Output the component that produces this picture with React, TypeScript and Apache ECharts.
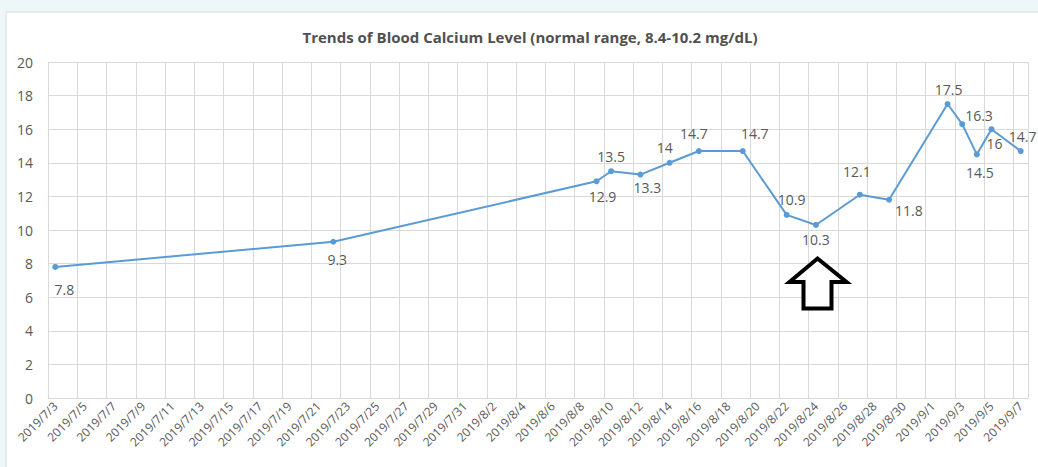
import React, { useEffect, useRef } from "react";
import * as echarts from "echarts";

const title = "Trends of Blood Calcium Level (normal range, 8.4-10.2 mg/dL)";
const startDate = "2019/7/3";
const dayCount = 67;
const measureDates = [
  "2019/7/3", "2019/7/22", "2019/8/9", "2019/8/10", "2019/8/12", "2019/8/14",
  "2019/8/16", "2019/8/19", "2019/8/22", "2019/8/24", "2019/8/27", "2019/8/29",
  "2019/9/2", "2019/9/3", "2019/9/4", "2019/9/5", "2019/9/7",
];
const calciumValues = [7.8, 9.3, 12.9, 13.5, 13.3, 14, 14.7, 14.7, 10.9, 10.3, 12.1, 11.8, 17.5, 16.3, 14.5, 16, 14.7];
const labelPlacement: [string, number, number][] = [
  ["bottom", 9, 8],
  ["bottom", 4, 3],
  ["bottom", 6, 0],
  ["top", 0, 0],
  ["bottom", 7, -2],
  ["top", -5, 0],
  ["top", -5, -3],
  ["top", 12, -3],
  ["top", 5, 0],
  ["bottom", 0, 0],
  ["top", -3, -8],
  ["right", -2, 11],
  ["top", 1, 0],
  ["right", -5, -9],
  ["bottom", 3, 3],
  ["bottom", 3, -1],
  ["top", 2, 0],
];

function buildDays(): string[] {
  const [y, m, d] = startDate.split("/").map(Number);
  const out: string[] = [];
  for (let i = 0; i < dayCount; i++) {
    const dt = new Date(y, m - 1, d + i);
    out.push(`${dt.getFullYear()}/${dt.getMonth() + 1}/${dt.getDate()}`);
  }
  return out;
}

export default function App() {
  const ref = useRef<HTMLDivElement>(null);
  useEffect(() => {
    if (!ref.current) return;
    const chart = echarts.init(ref.current, null, { renderer: "svg" });
    const days = buildDays();
    const data: any[] = days.map(() => null);
    measureDates.forEach((dt, i) => {
      const idx = days.indexOf(dt);
      const [pos, ox, oy] = labelPlacement[i];
      data[idx] = {
        value: calciumValues[i],
        label: { show: true, position: pos, offset: [ox, oy] },
      };
    });
    const textColor = "#595959";
    const font = "'Open Sans', 'Noto Sans', sans-serif";
    chart.setOption({
      animation: false,
      backgroundColor: "#EEF7F7",
      title: {
        text: title,
        left: 525,
        textAlign: "center",
        top: 24,
        textStyle: { fontSize: 15, fontWeight: "bold", color: "#505050", fontFamily: font },
      },
      grid: { left: 48, right: 10, top: 62, bottom: 69 },
      xAxis: {
        type: "category",
        data: days,
        boundaryGap: true,
        axisLine: { lineStyle: { color: "#D9D9D9" } },
        axisTick: { show: false },
        axisLabel: { interval: 1, rotate: 45, fontSize: 12, color: textColor, fontFamily: font, margin: 6 },
        splitLine: { show: true, interval: 1, lineStyle: { color: "#D9D9D9" } },
      },
      yAxis: {
        type: "value",
        min: 0,
        max: 20,
        interval: 2,
        axisLine: { show: false },
        axisTick: { show: false },
        axisLabel: { fontSize: 14, color: textColor, fontFamily: font, margin: 15 },
        splitLine: { lineStyle: { color: "#D9D9D9" } },
      },
      graphic: [
        {
          type: "rect",
          shape: { x: 6, y: 12, width: 1040, height: 470 },
          style: { fill: "#FFFFFF", stroke: "#D9D9D9", lineWidth: 1 },
          z: -10,
          silent: true,
        },
        {
          type: "polygon",
          shape: {
            points: [
              [817.5, 258.5], [846.5, 282], [831.5, 282], [831.5, 308.5],
              [803.5, 308.5], [803.5, 282], [789.5, 282],
            ],
          },
          style: { fill: "#FFFFFF", stroke: "#000000", lineWidth: 4, lineJoin: "miter" },
          z: 100,
        },
      ],
      series: [
        {
          type: "line",
          data,
          connectNulls: true,
          symbol: "circle",
          symbolSize: 6,
          lineStyle: { color: "#5B9BD5", width: 2 },
          itemStyle: { color: "#5B9BD5" },
          label: { show: true, color: textColor, fontSize: 14, fontFamily: font },
        },
      ],
    });
    return () => chart.dispose();
  }, []);
  return (
    <div
      ref={ref}
      style={{ position: "fixed", left: 0, top: 0, width: 1038, height: 467 }}
    />
  );
}
